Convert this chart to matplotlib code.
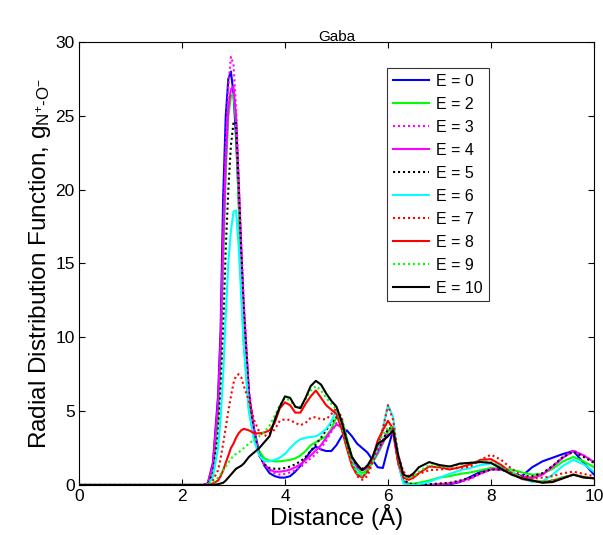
import matplotlib
matplotlib.use("Agg")
import matplotlib.pyplot as plt

plt.rcParams["font.family"] = ["Liberation Sans", "DejaVu Sans"]
plt.rcParams["mathtext.fontset"] = "custom"
plt.rcParams["mathtext.rm"] = "Liberation Sans"
plt.rcParams["mathtext.it"] = "Liberation Sans:italic"
plt.rcParams["mathtext.bf"] = "Liberation Sans:bold"

# distance grid (Angstrom)
distance = [0.0, 2.4, 2.5, 2.6, 2.7,
            2.75, 2.8, 2.85, 2.9, 2.95, 3.0, 3.05, 3.1, 3.15, 3.2,
            3.3, 3.4, 3.5, 3.6, 3.7, 3.8, 3.9, 4.0, 4.1, 4.2, 4.3, 4.4, 4.5,
            4.6, 4.7, 4.8, 4.9, 5.0, 5.1, 5.2, 5.3, 5.4, 5.5, 5.6, 5.7, 5.8,
            5.9, 6.0, 6.1, 6.2, 6.3, 6.4, 6.5, 6.6,
            6.8, 7.0, 7.2, 7.4, 7.6, 7.8, 8.0, 8.2, 8.4, 8.6, 8.8, 9.0, 9.2,
            9.4, 9.6, 9.8, 10.0]

g_E0 = [0, 0, 0.1, 1.5, 6.0,
        10.5, 19.5, 25.0, 27.5, 28.0, 26.5, 23.5, 19.5, 15.0, 11.0,
        6.0, 3.8, 2.2, 1.3, 0.8, 0.6, 0.5, 0.5, 0.6, 0.9, 1.3, 1.8, 2.3,
        2.6, 2.4, 2.3, 2.3, 2.7, 3.3, 3.7, 3.3, 2.8, 2.5, 2.2, 1.7, 1.2,
        1.15, 2.5, 3.7, 1.5, 0.2, 0.0, 0.0, 0.0,
        0.0, 0.0, 0.05, 0.2, 0.55, 0.9, 1.1, 1.05, 0.8, 0.6, 1.2, 1.6, 1.85,
        2.1, 2.3, 1.5, 0.7]

g_E2 = [0, 0, 0.05, 0.8, 4.5,
        8.5, 15.0, 21.0, 25.0, 26.3, 26.5, 24.5, 19.0, 13.5, 9.5,
        5.0, 3.2, 2.3, 1.8, 1.65, 1.6, 1.6, 1.65, 1.7, 1.8, 2.0, 2.3, 2.7,
        2.9, 3.1, 3.3, 3.8, 4.6, 4.5, 3.2, 1.9, 1.1, 0.8, 1.0, 1.5, 2.1,
        2.8, 3.6, 3.9, 1.8, 0.3, 0.1, 0.1, 0.15,
        0.3, 0.5, 0.6, 0.75, 0.85, 1.0, 1.15, 1.1, 1.05, 0.85, 0.7, 0.75, 1.1,
        1.6, 1.9, 1.6, 1.2]

g_E3 = [0, 0, 0.1, 1.2, 5.5,
        9.5, 17.0, 23.0, 27.0, 29.0, 28.5, 25.5, 21.0, 16.5, 12.5,
        6.5, 3.7, 2.1, 1.4, 1.0, 0.8, 0.7, 0.75, 0.85, 1.0, 1.2, 1.5, 1.8,
        2.1, 2.5, 3.0, 3.6, 4.2, 4.0, 2.8, 1.8, 1.2, 1.0, 1.2, 1.7, 2.3,
        3.0, 3.8, 3.6, 1.5, 0.2, 0.0, 0.0, 0.0,
        0.0, 0.05, 0.1, 0.2, 0.4, 0.75, 1.05, 1.1, 0.85, 0.6, 0.5, 0.7, 1.3,
        1.9, 2.35, 2.0, 1.6]

g_E4 = [0, 0, 0.1, 1.3, 5.5,
        9.5, 16.5, 22.0, 25.5, 26.8, 27.0, 25.0, 20.5, 16.0, 12.0,
        6.3, 3.6, 2.0, 1.4, 1.05, 0.9, 0.9, 0.95, 1.05, 1.2, 1.4, 1.7, 2.0,
        2.35, 2.7, 3.2, 3.7, 4.1, 3.9, 2.8, 1.8, 1.2, 1.0, 1.15, 1.6, 2.2,
        2.9, 3.4, 3.5, 1.5, 0.2, 0.0, 0.0, 0.0,
        0.0, 0.05, 0.1, 0.25, 0.45, 0.8, 1.05, 1.05, 0.8, 0.55, 0.45, 0.7, 1.25,
        1.85, 2.3, 2.0, 1.55]

g_E5 = [0, 0, 0.05, 0.8, 3.5,
        6.5, 10.5, 16.0, 20.0, 23.0, 24.5, 24.6, 20.5, 16.0, 12.0,
        6.2, 3.4, 2.0, 1.4, 1.15, 1.1, 1.1, 1.15, 1.25, 1.4, 1.6, 1.9, 2.3,
        2.75, 3.2, 3.7, 4.2, 4.6, 4.2, 3.0, 1.9, 1.3, 1.1, 1.3, 1.8, 2.4,
        3.0, 3.8, 3.9, 1.8, 0.4, 0.1, 0.05, 0.05,
        0.05, 0.1, 0.15, 0.3, 0.5, 0.8, 1.05, 1.05, 0.8, 0.6, 0.6, 0.8, 1.3,
        1.9, 2.25, 1.9, 1.5]

g_E6 = [0, 0, 0.0, 0.5, 2.5,
        4.5, 7.5, 11.5, 15.0, 17.2, 18.5, 18.6, 16.2, 12.8, 9.5,
        5.0, 3.0, 2.0, 1.6, 1.6, 1.7, 1.85, 2.1, 2.5, 2.85, 3.1, 3.2, 3.25,
        3.3, 3.5, 3.8, 4.3, 5.1, 4.4, 2.9, 1.6, 0.9, 0.6, 0.9, 1.6, 2.5,
        3.8, 5.4, 4.6, 1.5, 0.1, 0.0, 0.0, 0.05,
        0.2, 0.5, 0.75, 1.0, 1.15, 1.35, 1.45, 1.25, 0.9, 0.45, 0.2, 0.25, 0.7,
        1.3, 1.7, 1.4, 0.9]

g_E7 = [0, 0, 0.0, 0.3, 1.0,
        1.8, 2.8, 3.9, 5.0, 6.0, 6.9, 7.4, 7.5, 7.3, 6.7,
        5.7, 4.4, 3.6, 3.3, 3.5, 3.75, 4.35, 4.45, 4.4, 4.2, 4.05, 4.2, 4.55,
        4.6, 4.45, 4.45, 4.8, 5.2, 4.6, 3.0, 1.5, 0.6, 0.35, 0.6, 1.5, 2.6,
        3.8, 5.4, 4.4, 2.0, 0.9, 0.6, 0.65, 0.75,
        1.0, 1.05, 1.1, 1.15, 1.25, 1.7, 2.05, 1.7, 1.1, 0.6, 0.45, 0.5, 0.6,
        0.8, 0.9, 0.75, 0.6]

g_E8 = [0, 0, 0.0, 0.1, 0.3,
        0.6, 1.0, 1.5, 2.0, 2.5, 2.8, 3.2, 3.5, 3.7, 3.8,
        3.7, 3.5, 3.5, 3.55, 3.7, 4.2, 5.2, 5.6, 5.4, 4.9, 4.9, 5.5, 6.0,
        6.4, 5.9, 5.4, 5.1, 4.8, 3.8, 2.5, 1.3, 0.7, 0.5, 0.9, 1.8, 3.0,
        3.7, 4.35, 3.8, 1.5, 0.5, 0.35, 0.5, 0.8,
        1.25, 1.2, 1.05, 1.2, 1.4, 1.7, 1.75, 1.35, 0.8, 0.4, 0.3, 0.2, 0.3,
        0.5, 0.7, 0.55, 0.45]

g_E9 = [0, 0, 0.0, 0.15, 0.5,
        0.75, 1.0, 1.25, 1.5, 1.75, 2.0, 2.1, 2.2, 2.35, 2.5,
        2.8, 3.05, 3.3, 3.6, 4.0, 4.7, 5.4, 5.9, 5.7, 5.3, 5.3, 5.8, 6.4,
        6.7, 6.4, 5.9, 5.5, 5.1, 4.1, 2.7, 1.5, 0.8, 0.6, 0.9, 1.8, 2.7,
        3.4, 3.9, 3.9, 1.8, 0.6, 0.45, 0.6, 0.9,
        1.35, 1.25, 1.2, 1.4, 1.5, 1.6, 1.55, 1.2, 0.8, 0.45, 0.35, 0.25, 0.35,
        0.55, 0.7, 0.55, 0.45]

g_E10 = [0, 0, 0.0, 0.0, 0.05,
         0.1, 0.15, 0.3, 0.5, 0.7, 0.9, 1.1, 1.2, 1.3, 1.45,
         1.9, 2.2, 2.5, 2.9, 3.3, 4.4, 5.3, 6.0, 5.9, 5.3, 5.2, 5.9, 6.7,
         7.05, 6.8, 6.2, 5.7, 5.3, 4.3, 3.0, 1.9, 1.4, 1.0, 1.3, 1.9, 2.8,
         3.0, 3.3, 3.7, 2.0, 0.7, 0.55, 0.8, 1.2,
         1.55, 1.35, 1.25, 1.45, 1.5, 1.55, 1.5, 1.1, 0.7, 0.45, 0.3, 0.15, 0.2,
         0.45, 0.7, 0.5, 0.45]

labels = ["E = 0", "E = 2", "E = 3", "E = 4", "E = 5",
          "E = 6", "E = 7", "E = 8", "E = 9", "E = 10"]
series = [g_E0, g_E2, g_E3, g_E4, g_E5, g_E6, g_E7, g_E8, g_E9, g_E10]
colors = ["#0000ff", "#00ff00", "#ff00ff", "#ff00ff", "#000000",
          "#00ffff", "#ff0000", "#ff0000", "#00ff00", "#000000"]
dotted = (0, (1.0, 1.4))
styles = ["-", "-", dotted, "-", dotted, "-", dotted, "-", dotted, "-"]

fig = plt.figure(figsize=(6.03, 5.35), dpi=100)
ax = fig.add_axes([0.131, 0.0935, 0.854, 0.828])

for y, c, ls, lab in zip(series, colors, styles, labels):
    ax.plot(distance, y, color=c, linestyle=ls, linewidth=1.5, label=lab)

ax.set_xlim(0, 10)
ax.set_ylim(0, 30)
ax.set_xticks([0, 2, 4, 6, 8, 10])
ax.set_yticks([0, 5, 10, 15, 20, 25, 30])
ax.tick_params(direction="in", top=True, right=True, length=4,
               labelsize=12.5, width=0.8, pad=3)
for sp in ax.spines.values():
    sp.set_linewidth(0.8)

ax.set_title("Gaba", fontsize=11, pad=1)
ax.set_xlabel("Distance (Å)", fontsize=17.5, labelpad=0)
ax.set_ylabel(r"Radial Distribution Function, g$_{\mathregular{N^{+}\text{-}O^{-}}}$",
              fontsize=17.5, labelpad=2)

leg = ax.legend(loc="upper left", bbox_to_anchor=(0.598, 0.941),
                fontsize=11.5, frameon=True, fancybox=False, edgecolor="black",
                handlelength=2.3, handletextpad=0.45, labelspacing=0.5,
                borderpad=0.35, borderaxespad=0)
leg.get_frame().set_linewidth(0.8)

fig.savefig("out.png", dpi=100)
